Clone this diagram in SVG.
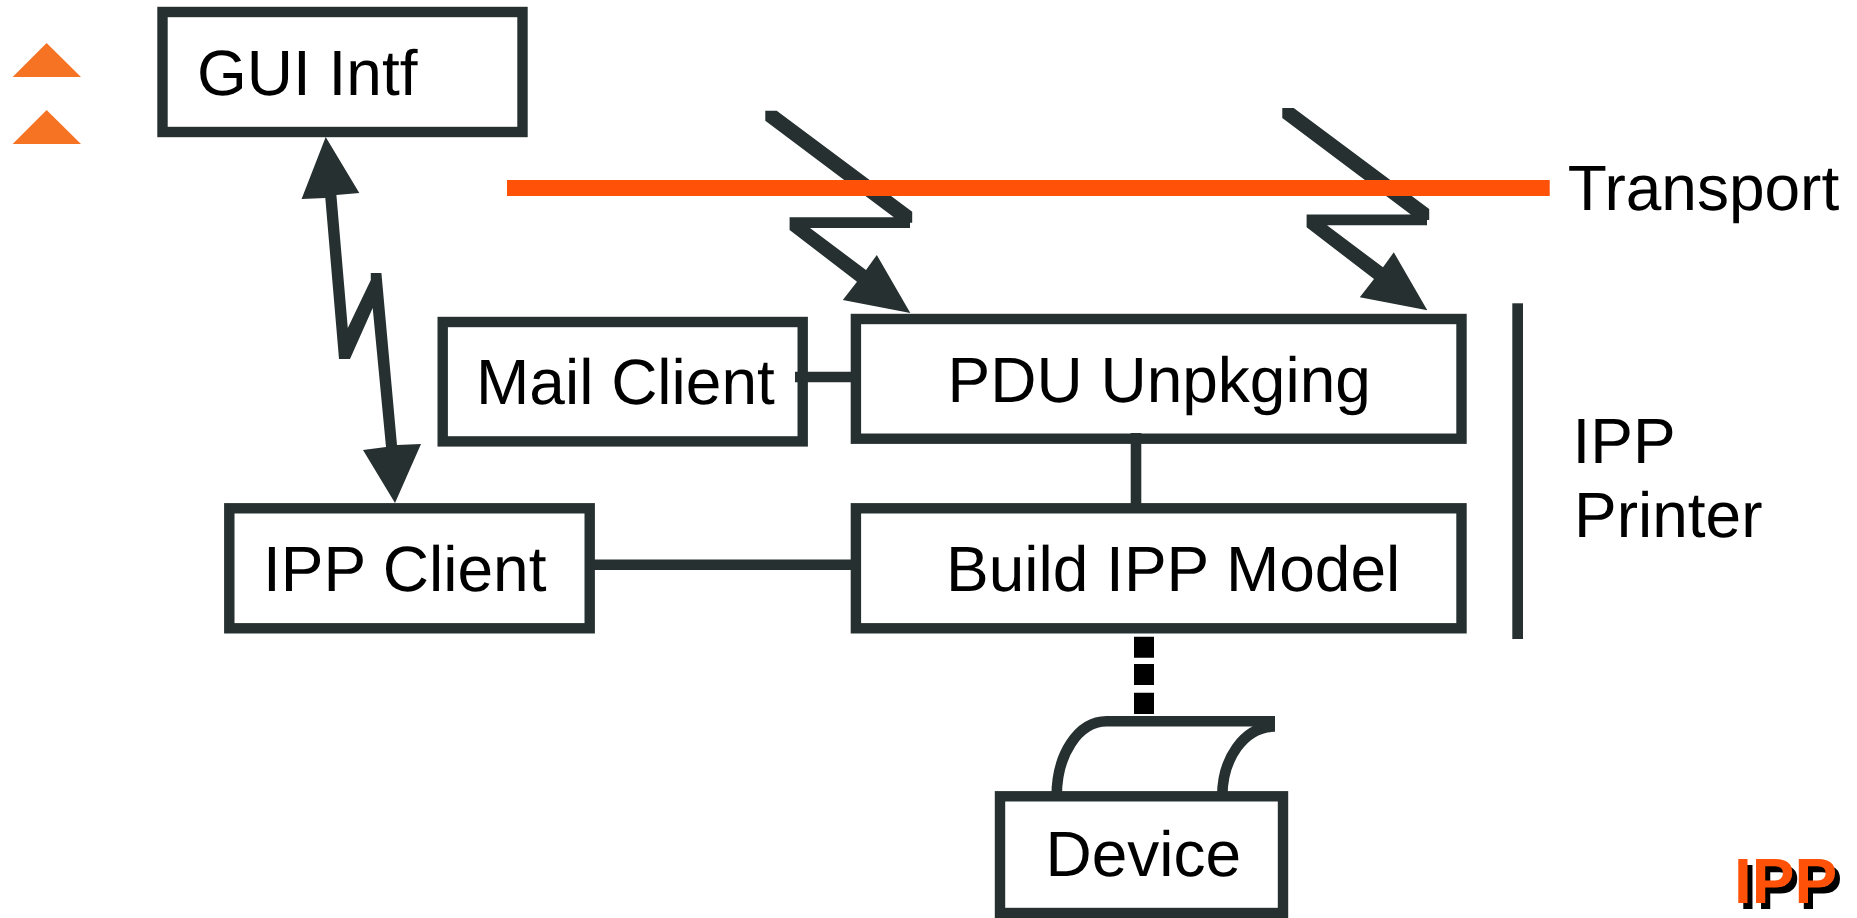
<svg xmlns="http://www.w3.org/2000/svg" width="1857" height="918" viewBox="0 0 1857 918">
<style>
text{font-family:"Liberation Sans",Arial,sans-serif;font-size:64px;fill:#000;text-rendering:geometricPrecision}
.box{fill:#fff;stroke:#263030;stroke-width:10.4}
.ln{fill:none;stroke:#263030;stroke-width:10.6}
.bolt{fill:#263030}
.tri{fill:#F57322}
.logo{font-weight:bold}
</style>
<rect width="1857" height="918" fill="#fff"/>
<g id="bullets">
<polygon class="tri" points="46.6,43 81,77 12.6,77"/>
<polygon class="tri" points="46.6,110 81,144 12.6,144"/>
</g>
<g id="gui-intf"><rect class="box" x="162.500" y="12" width="360" height="120"/><text x="197" y="95">GUI Intf</text></g>
<g id="mail-client"><rect class="box" x="442.700" y="322" width="360" height="119.400"/><text x="476" y="404">Mail Client</text></g>
<g id="pdu-unpkging"><rect class="box" x="855.900" y="319" width="605.600" height="119.700"/><text x="947.500" y="402">PDU Unpkging</text></g>
<g id="ipp-client"><rect class="box" x="229.300" y="508.300" width="360.400" height="120"/><text x="263" y="591">IPP Client</text></g>
<g id="build-ipp-model"><rect class="box" x="855.900" y="508.300" width="605.600" height="120"/><text x="946" y="591">Build IPP Model</text></g>
<g id="device"><rect class="box" x="1000" y="796.300" width="283" height="116.700"/><text x="1045.500" y="876">Device</text></g>
<g id="connectors">
<polygon class="bolt" points="325.7,137 359.3,193 336.4,195 347.8,328 370.8,280 370.8,273 381.4,273 397,445 421,444 395,503 363,450 386,447 372.7,308 350,359 339,359 325.3,198 301.6,199"/>
<polygon class="bolt" points="765.3,110.7 776.7,110.7 912.2,211.7 912.2,222.7 910,222.7 910,228 810,228 866,270 876.8,255 910.3,313 842.8,300 857,281.7 789.6,230 789.6,217.3 893.8,217.3 765.3,120.7"/>
<polygon class="bolt" transform="translate(517 -2.7)" points="765.3,110.7 776.7,110.7 912.2,211.7 912.2,222.7 910,222.7 910,228 810,228 866,270 876.8,255 910.3,313 842.8,300 857,281.7 789.6,230 789.6,217.3 893.8,217.3 765.3,120.7"/>
<path class="ln" d="M795 377H852M1136 433V513M585 564.700H852"/>
<path d="M1134 636.7h20v21h-20zM1134 664h20v21h-20zM1134 692.7h20v21.300h-20z" fill="#000"/>
<path class="ln" d="M1056.700 796C1056.700 755 1078 721.300 1106.700 721.300H1275M1222.300 796C1222.300 760 1243 726.500 1275 726.500"/>
</g>
<g id="transport">
<rect x="507" y="180" width="1042.700" height="16" fill="#FF5208"/>
<text x="1567.700" y="210">Transport</text>
</g>
<g id="ipp-printer">
<rect x="1512.300" y="303.300" width="10.700" height="335.700" fill="#263030"/>
<text x="1572.500" y="462.700">IPP</text>
<text x="1574" y="537.300">Printer</text>
</g>
<g id="logo">
<text class="logo" x="1739" y="909">IPP</text>
<text class="logo" x="1734" y="902.700" style="fill:#FF5208">IPP</text>
</g>
</svg>
